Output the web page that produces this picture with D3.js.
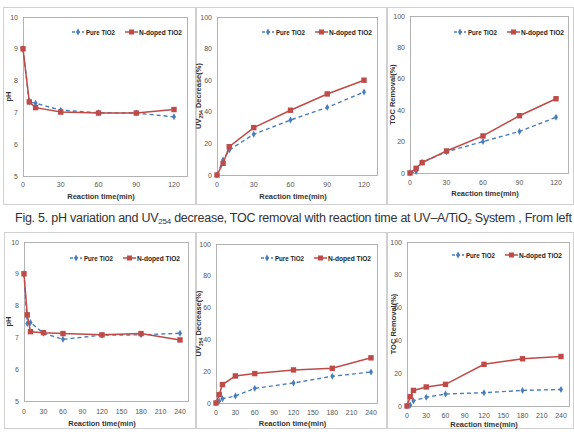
<!DOCTYPE html>
<html>
<head>
<meta charset="utf-8">
<script src="https://cdn.jsdelivr.net/npm/d3@7"></script>
<style>
  body { margin: 0; background: #fff; }
  svg { display: block; }
  .tick-lbl { font-family: "Liberation Sans", Arial, sans-serif; font-size: 7px; fill: #555; }
  .ax-title { font-family: "Liberation Sans", Arial, sans-serif; font-size: 7.5px; font-weight: bold; fill: #333; }
  .leg { font-family: "Liberation Sans", Arial, sans-serif; font-size: 8px; font-weight: bold; fill: #222; }
</style>
</head>
<body>
<div id="chart"></div>
<script>
// data
var topTimes = [0, 5, 10, 30, 60, 90, 120];
var bottomTimes = [0, 5, 10, 30, 60, 120, 180, 240];
var topTicks = [0, 30, 60, 90, 120];
var bottomTicks = [0, 30, 60, 90, 120, 150, 180, 210, 240];
var phTicks = [5, 6, 7, 8, 9, 10];
var pctTicks = [0, 20, 40, 60, 80, 100];

var phPureTop = [9.0, 7.33, 7.29, 7.07, 6.99, 6.98, 6.86];
var phDopedTop = [9.0, 7.33, 7.15, 7.01, 6.98, 6.98, 7.09];
var uvPureTop = [0, 9.5, 15.8, 25.8, 34.8, 42.8, 52.5];
var uvDopedTop = [0, 7.4, 17.9, 30.0, 41.0, 51.3, 60.0];
var tocPureTop = [0, 1.0, 6.8, 13.6, 20.0, 26.5, 35.5];
var tocDopedTop = [0, 3.0, 6.6, 14.0, 23.6, 36.5, 47.3];

var phPureBottom = [9.0, 7.44, 7.47, 7.13, 6.94, 7.07, 7.08, 7.13];
var phDopedBottom = [9.0, 7.71, 7.18, 7.15, 7.12, 7.08, 7.12, 6.92];
var uvPureBottom = [0, 1.3, 2.7, 4.4, 9.2, 12.6, 16.8, 19.5];
var uvDopedBottom = [0, 5.3, 11.6, 17.0, 18.5, 20.8, 21.8, 28.4];
var tocPureBottom = [0, 0.6, 3.2, 5.3, 7.3, 8.1, 9.5, 10.1];
var tocDopedBottom = [0, 5.7, 9.5, 11.6, 13.2, 25.4, 28.8, 30.2];

var seriesNames = ["Pure TiO2", "N-doped TiO2"];
var caption = "Fig. 5. pH variation and UV254 decrease, TOC removal with reaction time at UV-A/TiO2 System , From left";

var W = 574, H = 432;
var blue = "#4a7ebb", red = "#be4b48";

var svg = d3.select("#chart").append("svg")
  .attr("width", W).attr("height", H);

// layout of each small chart
var panels = [
  { frame: [3, 7, 195, 204], plot: [23, 17, 187, 176], xr: [23, 174], times: topTimes, ticks: topTicks,
    yDom: [5, 10], yTicks: phTicks, title: "pH", pure: phPureTop, doped: phDopedTop,
    tickY: 187, titleY: 199, yTitleX: 8, legX: 72, legY: 32 },
  { frame: [196, 7, 386, 204], plot: [217, 17, 377, 175], xr: [217, 364], times: topTimes, ticks: topTicks,
    yDom: [0, 100], yTicks: pctTicks, title: "uv", pure: uvPureTop, doped: uvDopedTop,
    tickY: 187, titleY: 199, yTitleX: 198, legX: 262, legY: 32 },
  { frame: [387, 7, 573, 204], plot: [410, 16, 568, 173], xr: [410, 556], times: topTimes, ticks: topTicks,
    yDom: [0, 100], yTicks: pctTicks, title: "TOC Removal(%)", pure: tocPureTop, doped: tocDopedTop,
    tickY: 185, titleY: 196, yTitleX: 392, legX: 454, legY: 32 },
  { frame: [4, 232, 195, 428], plot: [24, 242, 188, 401], xr: [24, 180], times: bottomTimes, ticks: bottomTicks,
    yDom: [5, 10], yTicks: phTicks, title: "pH", pure: phPureBottom, doped: phDopedBottom,
    tickY: 414, titleY: 426, yTitleX: 8, legX: 70, legY: 258 },
  { frame: [196, 232, 386, 428], plot: [216, 244, 377, 403], xr: [216, 371], times: bottomTimes, ticks: bottomTicks,
    yDom: [0, 100], yTicks: pctTicks, title: "uv", pure: uvPureBottom, doped: uvDopedBottom,
    tickY: 415, titleY: 426, yTitleX: 198, legX: 261, legY: 258 },
  { frame: [387, 232, 573, 428], plot: [407, 242, 569, 406], xr: [407, 561], times: bottomTimes, ticks: bottomTicks,
    yDom: [0, 100], yTicks: pctTicks, title: "TOC Removal(%)", pure: tocPureBottom, doped: tocDopedBottom,
    tickY: 418, titleY: 427, yTitleX: 393, legX: 452, legY: 255 }
];

panels.forEach(drawPanel);

function drawPanel(p) {
  var g = svg.append("g");
  var f = p.frame, pl = p.plot;

  g.append("rect")
    .attr("x", f[0] + 0.5).attr("y", f[1] + 0.5)
    .attr("width", f[2] - f[0]).attr("height", f[3] - f[1])
    .attr("fill", "#fff").attr("stroke", "#d0d0d0");

  var x = d3.scaleLinear().domain([0, p.ticks[p.ticks.length - 1]]).range(p.xr);
  var y = d3.scaleLinear().domain(p.yDom).range([pl[3], pl[1]]);

  g.append("rect")
    .attr("x", pl[0] + 0.5).attr("y", pl[1] + 0.5)
    .attr("width", pl[2] - pl[0]).attr("height", pl[3] - pl[1])
    .attr("fill", "none").attr("stroke", "#a0a0a0").attr("stroke-width", 0.8);

  // y tick labels
  g.selectAll(".yt").data(p.yTicks).enter().append("text")
    .attr("class", "tick-lbl")
    .attr("x", pl[0] - 5).attr("y", function(d) { return y(d) + 2.5; })
    .attr("text-anchor", "end")
    .text(function(d) { return d; });

  // x tick labels
  g.selectAll(".xt").data(p.ticks).enter().append("text")
    .attr("class", "tick-lbl")
    .attr("x", function(d) { return x(d); }).attr("y", p.tickY)
    .attr("text-anchor", "middle")
    .text(function(d) { return d; });

  g.append("text").attr("class", "ax-title")
    .attr("x", (pl[0] + pl[2]) / 2 - 4).attr("y", p.titleY)
    .attr("text-anchor", "middle")
    .text("Reaction  time(min)");

  var yt = g.append("text").attr("class", "ax-title")
    .attr("transform", "translate(" + p.yTitleX + "," + ((pl[1] + pl[3]) / 2) + ") rotate(-90)")
    .attr("text-anchor", "middle").attr("dy", "0.35em");
  if (p.title === "uv") {
    yt.append("tspan").text("UV");
    yt.append("tspan").attr("font-size", "5px").attr("dy", 2).text("254");
    yt.append("tspan").attr("dy", -2).text(" Decrease(%)");
  } else {
    yt.text(p.title);
  }

  var line = d3.line()
    .x(function(d) { return x(d[0]); })
    .y(function(d) { return y(d[1]); });

  var pure = d3.zip(p.times, p.pure);
  var doped = d3.zip(p.times, p.doped);

  g.append("path").datum(pure)
    .attr("d", line).attr("fill", "none")
    .attr("stroke", blue).attr("stroke-width", 1.4).attr("stroke-dasharray", "4,3");
  g.selectAll(".pm").data(pure).enter().append("path")
    .attr("d", d3.symbol(d3.symbolDiamond, 14))
    .attr("transform", function(d) { return "translate(" + x(d[0]) + "," + y(d[1]) + ")"; })
    .attr("fill", blue);

  g.append("path").datum(doped)
    .attr("d", line).attr("fill", "none")
    .attr("stroke", red).attr("stroke-width", 1.5);
  g.selectAll(".dm").data(doped).enter().append("rect")
    .attr("x", function(d) { return x(d[0]) - 2.7; })
    .attr("y", function(d) { return y(d[1]) - 2.7; })
    .attr("width", 5.4).attr("height", 5.4)
    .attr("fill", red);

  // legend
  var lg = g.append("g").attr("transform", "translate(" + p.legX + "," + p.legY + ")");
  lg.append("line").attr("x1", 0).attr("x2", 12)
    .attr("stroke", blue).attr("stroke-width", 1.4).attr("stroke-dasharray", "3,2");
  lg.append("path").attr("d", d3.symbol(d3.symbolDiamond, 14))
    .attr("transform", "translate(6,0)").attr("fill", blue);
  lg.append("text").attr("class", "leg").attr("x", 14).attr("y", 3)
    .attr("textLength", 29).attr("lengthAdjust", "spacingAndGlyphs")
    .text(seriesNames[0]);
  lg.append("line").attr("x1", 53).attr("x2", 66)
    .attr("stroke", red).attr("stroke-width", 1.5);
  lg.append("rect").attr("x", 57).attr("y", -2.5).attr("width", 5).attr("height", 5).attr("fill", red);
  lg.append("text").attr("class", "leg").attr("x", 67).attr("y", 3)
    .attr("textLength", 43).attr("lengthAdjust", "spacingAndGlyphs")
    .text(seriesNames[1]);
}

// caption between the rows
var cap = svg.append("text")
  .attr("x", 15).attr("y", 222)
  .attr("font-family", "'Liberation Sans', Arial, sans-serif")
  .attr("font-size", "12.5px").attr("fill", "#333")
  .attr("textLength", 557).attr("lengthAdjust", "spacing");
cap.append("tspan").text("Fig. 5. pH variation and UV");
cap.append("tspan").attr("font-size", "8px").attr("dy", 2).text("254");
cap.append("tspan").attr("dy", -2).text(" decrease, TOC removal with reaction time at UV\u2013A/TiO");
cap.append("tspan").attr("font-size", "8px").attr("dy", 2).text("2");
cap.append("tspan").attr("dy", -2).text(" System , From left");
</script>
</body>
</html>
